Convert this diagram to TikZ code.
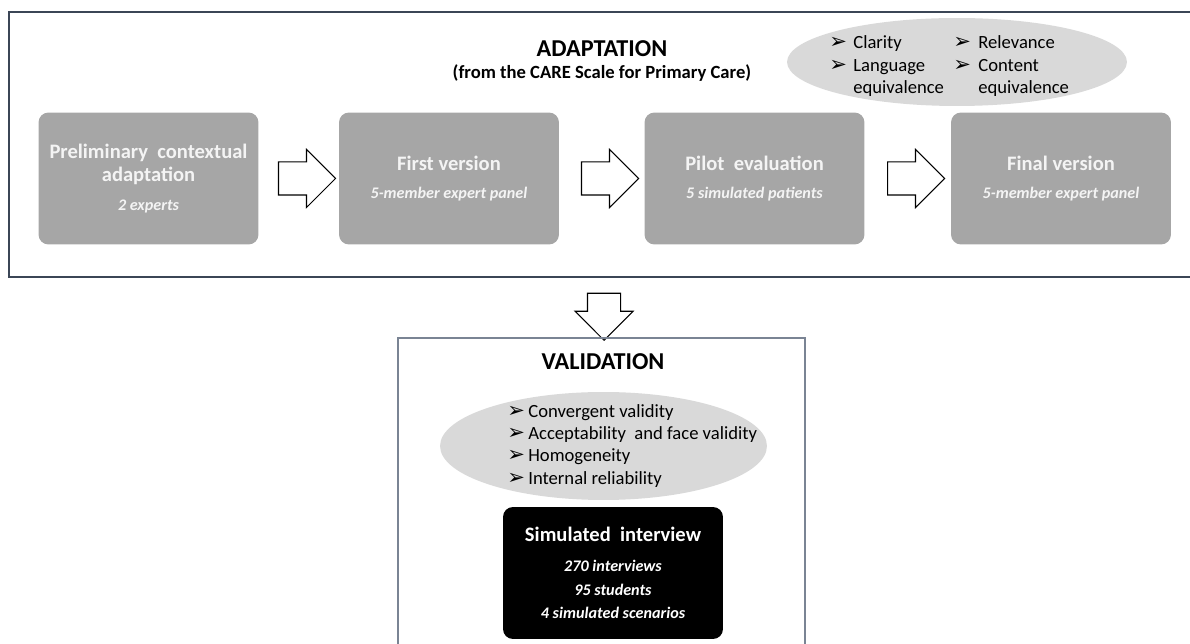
\documentclass[tikz,border=0pt]{standalone}
\usepackage{fontspec}
\setmainfont{Carlito}
\newfontfamily\symfont{DejaVu Sans}
\usetikzlibrary{shapes.geometric,shapes.arrows,calc}

\definecolor{boxgray}{HTML}{A6A6A6}
\definecolor{ovalgray}{HTML}{D9D9D9}
\definecolor{framedark}{HTML}{3B4656}
\definecolor{framelight}{HTML}{7A8494}
\definecolor{boxtext}{HTML}{F4F4F4}

\newcommand{\subfont}{\fontsize{9.2}{10}\selectfont\bfseries\itshape}
\newcommand{\pointer}[1]{\makebox[#1][l]{\symfont\fontsize{12}{12}\selectfont ➢}}

\begin{document}
\begin{tikzpicture}[x=0.02cm, y=-0.02cm,
    stage/.style={fill=boxgray, rounded corners=0.2cm, minimum width=4.4cm, minimum height=2.64cm,
        text=boxtext, align=center, font=\fontsize{11.7}{13.6}\selectfont\bfseries},
    blockarrow/.style={single arrow, draw=black, fill=white, line width=0.6pt, inner xsep=0pt,
        inner ysep=0.32cm, minimum height=1.14cm, minimum width=1.14cm, single arrow head extend=0.25cm},
    oval/.style={ellipse, fill=ovalgray, inner sep=0pt},
    item/.style={anchor=base west, inner sep=0pt, font=\fontsize{10.6}{12}\selectfont},
    title/.style={font=\fontsize{13.8}{15}\selectfont\bfseries},
    subtitle/.style={font=\fontsize{10.6}{12}\selectfont\bfseries}
]
    \clip (0,0) rectangle (1190,644);

    % Adaptation frame and heading
    \draw[framedark, line width=0.8pt] (9,12) rectangle (1200,277);
    \node[title] (adapt) at (602,49) {ADAPTATION};
    \node[subtitle] (adaptsub) at (602,73) {(from the CARE Scale for Primary Care)};

    % Criteria of the adaptation
    \node[oval, minimum width=6.8cm, minimum height=1.76cm] (criteria) at (957,62) {};
    \node[item] (clarity) at (829,49) {\pointer{0.48cm}Clarity};
    \node[item] (language) at (829,72) {\pointer{0.48cm}Language};
    \node[item] (langeq) at (853,94) {equivalence};
    \node[item] (relevance) at (953,49) {\pointer{0.5cm}Relevance};
    \node[item] (content) at (953,72) {\pointer{0.5cm}Content};
    \node[item] (conteq) at (978,94) {equivalence};

    % Stages of the adaptation
    \node[stage] (prelim) at (148.5,178.5) {Preliminary\ \ contextual\\adaptation\\[2.8pt]{\subfont 2 experts}};
    \node[stage] (first) at (449,178.5) {First version\\[2.8pt]{\subfont 5-member expert panel}};
    \node[stage] (pilot) at (754.5,178.5) {Pilot\ \ evaluation\\[2.8pt]{\subfont 5 simulated patients}};
    \node[stage] (final) at (1061,178.5) {Final version\\[2.8pt]{\subfont 5-member expert panel}};

    % Block arrows between stages
    \node[blockarrow] (a1) at ($(prelim.east)!0.5!(first.west)$) {};
    \node[blockarrow] (a2) at ($(first.east)!0.5!(pilot.west)$) {};
    \node[blockarrow] (a3) at ($(pilot.east)!0.5!(final.west)$) {};

    % Arrow down to the validation
    \node[blockarrow, rotate=-90, minimum height=0.94cm] (down) at (604,308.5) {};

    % Validation frame and heading
    \draw[framelight, line width=0.8pt] (398,660) |- (805,338) -- (805,660);
    \node[title] (valid) at (603,362) {VALIDATION};

    % Properties checked in the validation
    \node[oval, minimum width=6.54cm, minimum height=2.16cm] (props) at (603.5,446) {};
    \node[item] (converg) at (507,418) {\pointer{0.42cm}Convergent validity};
    \node[item] (accept) at (507,440) {\pointer{0.42cm}Acceptability\ \ and face validity};
    \node[item] (homog) at (507,462) {\pointer{0.42cm}Homogeneity};
    \node[item] (internal) at (507,485) {\pointer{0.42cm}Internal reliability};

    % Simulated interview
    \node[stage, fill=black, text=white] (interview) at (613,573) {Simulated\ \ interview\\[3.4pt]{\subfont 270 interviews}\\{\subfont 95 students}\\{\subfont 4 simulated scenarios}};
\end{tikzpicture}
\end{document}
